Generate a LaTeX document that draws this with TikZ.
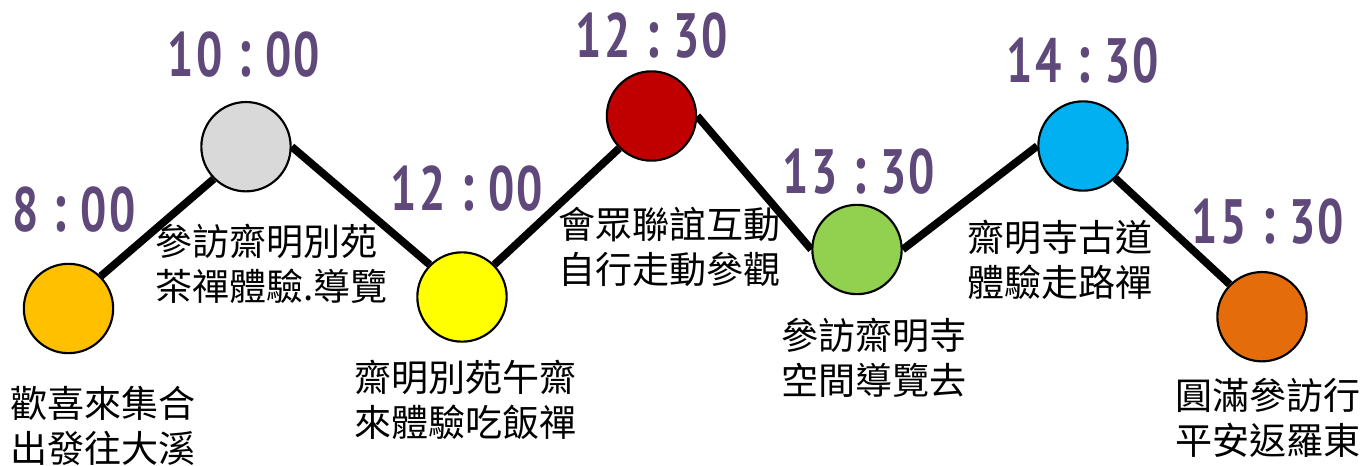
\documentclass[tikz,border=0pt]{standalone}
\usepackage{fontspec}
\usetikzlibrary{backgrounds}
\newfontfamily\cjk{Noto Sans CJK TC}
\newfontfamily\timefont{PT Sans}[UprightFont=* Bold, FakeStretch=0.74]
\definecolor{tpurple}{HTML}{5F497A}
\definecolor{cA}{HTML}{FFC000}
\definecolor{cB}{HTML}{D9D9D9}
\definecolor{cC}{HTML}{FFFF00}
\definecolor{cD}{HTML}{C00000}
\definecolor{cE}{HTML}{92D050}
\definecolor{cF}{HTML}{00B0F0}
\definecolor{cG}{HTML}{E46C0A}
\newcommand{\dg}[1]{\makebox[21.5pt][c]{#1}}
\newcommand{\cl}{\makebox[30pt][c]{\fontsize{52}{52}\selectfont :}}
\tikzset{
  stopnode/.style={circle, draw=black, line width=1.6pt, minimum size=67pt, inner sep=0pt},
  linkline/.style={line width=5.8pt, draw=black},
  timelabel/.style={text=tpurple, font=\timefont\fontsize{47}{47}\selectfont, inner sep=0pt, anchor=center},
  desc/.style={font=\cjk\fontsize{27.8}{33.75}\selectfont, align=left, inner sep=0pt, anchor=north west},
}
\begin{document}
\begin{tikzpicture}[x=0.75pt,y=-0.75pt]
\useasboundingbox (0,0) rectangle (1360,466);
% stops
\node[stopnode, fill=cA] (c1) at (68.5,308.5) {};
\node[stopnode, fill=cB] (c2) at (246,146.7) {};
\node[stopnode, fill=cC] (c3) at (462,297) {};
\node[stopnode, fill=cD] (c4) at (651.5,116) {};
\node[stopnode, fill=cE] (c5) at (857,249.5) {};
\node[stopnode, fill=cF] (c6) at (1083,146) {};
\node[stopnode, fill=cG] (c7) at (1262,316.7) {};
% connectors
\begin{scope}[on background layer]
\draw[linkline] (c1.north east) -- (c2.south west);
\draw[linkline] (c2.east) -- (c3.north west);
\draw[linkline] (c3.north east) -- (c4.south west);
\draw[linkline] (c4.east) -- (c5.west);
\draw[linkline] (c5.east) -- (c6.west);
\draw[linkline] (c6.south east) -- (c7.north west);
\end{scope}
% times
\node[timelabel] (t1) at (74,210) {\dg{8}\cl\dg{0}\dg{0}};
\node[timelabel] (t2) at (244,54.5) {\dg{1}\dg{0}\cl\dg{0}\dg{0}};
\node[timelabel] (t3) at (467,189) {\dg{1}\dg{2}\cl\dg{0}\dg{0}};
\node[timelabel] (t4) at (652,36) {\dg{1}\dg{2}\cl\dg{3}\dg{0}};
\node[timelabel] (t5) at (859,171.5) {\dg{1}\dg{3}\cl\dg{3}\dg{0}};
\node[timelabel] (t6) at (1083,61) {\dg{1}\dg{4}\cl\dg{3}\dg{0}};
\node[timelabel] (t7) at (1268,221.5) {\dg{1}\dg{5}\cl\dg{3}\dg{0}};
% descriptions
\node[desc] (d1) at (10,386) {歡喜來集合\\出發往大溪};
\node[desc] (d2) at (155,224) {參訪齋明別苑\\茶禪體驗.導覽};
\node[desc] (d3) at (354,360) {齋明別苑午齋\\來體驗吃飯禪};
\node[desc] (d4) at (558,207) {會眾聯誼互動\\自行走動參觀};
\node[desc] (d5) at (781,318) {參訪齋明寺\\空間導覽去};
\node[desc] (d6) at (967,220) {齋明寺古道\\體驗走路禪};
\node[desc] (d7) at (1175,378) {圓滿參訪行\\平安返羅東};
\end{tikzpicture}
\end{document}
